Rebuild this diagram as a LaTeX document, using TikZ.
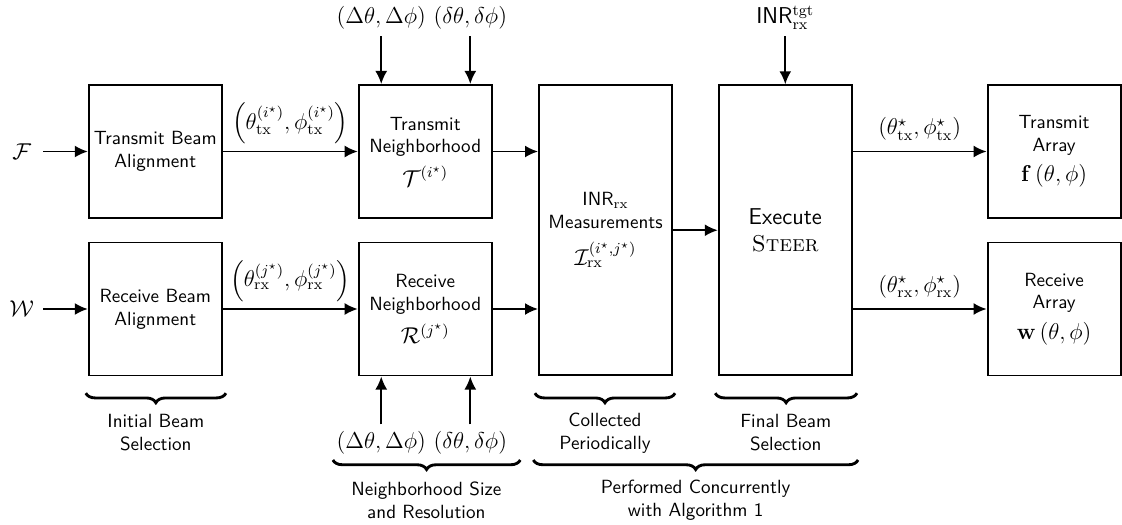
\documentclass[tikz,border=0pt]{standalone}
\usepackage{amsmath,amssymb}
\usepackage{tikz}
\usetikzlibrary{arrows.meta,decorations.pathreplacing}

\begin{document}
\begin{tikzpicture}[
    blk/.style={draw, line width=1pt, minimum width=2.45cm, minimum height=2.45cm, align=center, inner sep=0pt, font=\sffamily},
    tall/.style={blk, minimum height=5.34cm},
    lbl/.style={align=center, font=\sffamily},
    arr/.style={-{Latex[length=2.4mm,width=2.2mm]}, line width=1pt},
    brc/.style={decorate, decoration={brace, mirror, amplitude=5pt}, line width=1.5pt}]
    \useasboundingbox (0,0) rectangle (20.66,9.65);
    % blocks
    \node[blk] (tba) at (2.86,6.86) {Transmit Beam\\Alignment};
    \node[blk] (rba) at (2.86,3.96) {Receive Beam\\Alignment};
    \node[blk] (tn) at (7.83,6.86) {Transmit\\Neighborhood\\[4pt]{\large$\mathcal{T}^{(i^\star)}$}};
    \node[blk] (rn) at (7.83,3.96) {Receive\\Neighborhood\\[4pt]{\large$\mathcal{R}^{(j^\star)}$}};
    \node[tall] (inr) at (11.15,5.41) {INR$_{\mathrm{rx}}$\\Measurements\\[6pt]{\large$\mathcal{I}_{\mathrm{rx}}^{(i^\star,j^\star)}$}};
    \node[tall, font=\sffamily\large] (ex) at (14.46,5.41) {Execute\\\textrm{\textsc{Steer}}};
    \node[blk] (ta) at (19.41,6.86) {Transmit\\Array\\[4pt]{\large$\mathbf{f}\left(\theta,\phi\right)$}};
    \node[blk] (ra) at (19.41,3.96) {Receive\\Array\\[4pt]{\large$\mathbf{w}\left(\theta,\phi\right)$}};
    % codebooks
    \node[font=\large, minimum width=0.78cm, inner sep=0pt] (F) at (0.40,6.86) {$\mathcal{F}$};
    \node[font=\large, minimum width=0.78cm, inner sep=0pt] (W) at (0.40,3.96) {$\mathcal{W}$};
    \draw[arr] (F) -- (tba);
    \draw[arr] (W) -- (rba);
    % flow
    \draw[arr] (tba) -- node[above, font=\large] {$\left(\theta_{\mathrm{tx}}^{(i^\star)}, \phi_{\mathrm{tx}}^{(i^\star)}\right)$} (tn);
    \draw[arr] (rba) -- node[above, font=\large] {$\left(\theta_{\mathrm{rx}}^{(j^\star)}, \phi_{\mathrm{rx}}^{(j^\star)}\right)$} (rn);
    \draw[arr] (tn.east) -- (tn.east -| inr.west);
    \draw[arr] (rn.east) -- (rn.east -| inr.west);
    \draw[arr] (inr) -- (ex);
    \draw[arr] (ex.east |- ta.west) -- node[above=2pt, font=\large] {$(\theta_{\mathrm{tx}}^{\star}, \phi_{\mathrm{tx}}^{\star})$} (ta.west);
    \draw[arr] (ex.east |- ra.west) -- node[above=2pt, font=\large] {$(\theta_{\mathrm{rx}}^{\star}, \phi_{\mathrm{rx}}^{\star})$} (ra.west);
    % neighborhood size and resolution
    \node[font=\large] (dtA) at (7.02,9.32) {$(\Delta\theta, \Delta\phi)$};
    \node[font=\large] (dtB) at (8.66,9.32) {$(\delta\theta, \delta\phi)$};
    \node[font=\large] (drA) at (7.02,1.50) {$(\Delta\theta, \Delta\phi)$};
    \node[font=\large] (drB) at (8.66,1.50) {$(\delta\theta, \delta\phi)$};
    \draw[arr] (dtA.south) -- (dtA.south |- tn.north);
    \draw[arr] (dtB.south) -- (dtB.south |- tn.north);
    \draw[arr] (drA.north) -- (drA.north |- rn.south);
    \draw[arr] (drB.north) -- (drB.north |- rn.south);
    % target INR
    \node[lbl, font=\sffamily\large] (tgt) at (14.46,9.32) {INR$_{\mathrm{rx}}^{\mathrm{tgt}}$};
    \draw[arr] (tgt) -- (ex);
    % braces
    \draw[brc] (1.58,2.41) -- (4.16,2.41);
    \draw[brc] (9.85,2.41) -- (12.43,2.41);
    \draw[brc] (13.17,2.41) -- (15.78,2.41);
    \draw[brc] (6.13,1.18) -- (9.58,1.18);
    \draw[brc] (9.82,1.18) -- (15.80,1.18);
    \node[lbl] (selA) at (2.87,1.68) {Initial Beam\\Selection};
    \node[lbl] (per) at (11.14,1.68) {Collected\\Periodically};
    \node[lbl] (selB) at (14.47,1.68) {Final Beam\\Selection};
    \node[lbl] (nbh) at (7.85,0.44) {Neighborhood Size\\and Resolution};
    \node[lbl] (conc) at (12.81,0.44) {Performed Concurrently\\with Algorithm 1};
\end{tikzpicture}
\end{document}
